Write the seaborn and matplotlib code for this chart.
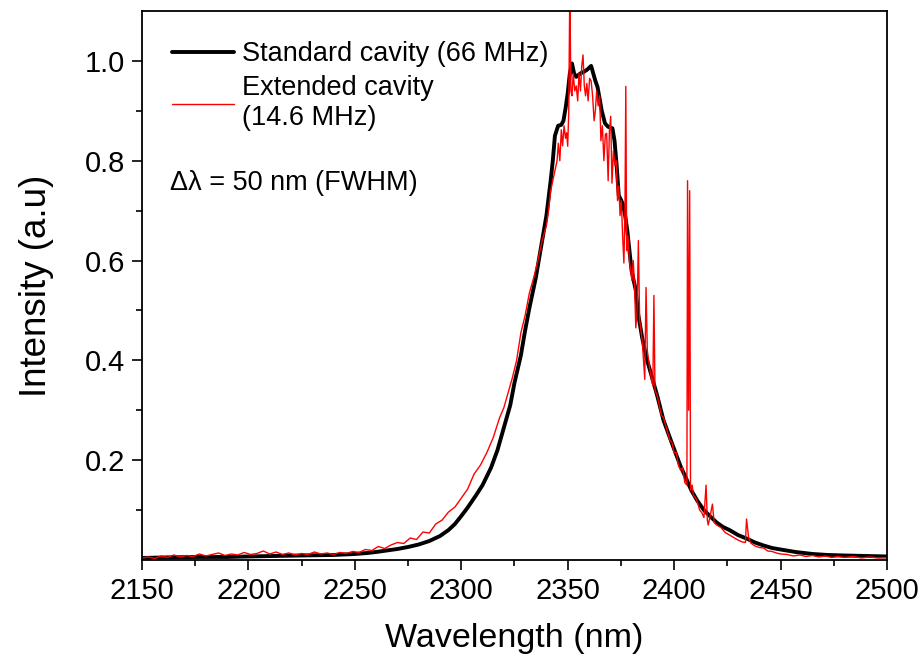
import numpy as np
import pandas as pd
import matplotlib
matplotlib.use("Agg")
import matplotlib.pyplot as plt
import seaborn as sns
from matplotlib.ticker import MultipleLocator, FixedLocator

# ---------------- data ----------------
black_wl = [2150, 2160, 2175, 2190, 2200, 2212, 2225, 2240, 2250, 2256, 2260, 2265,
            2270, 2275, 2280, 2285, 2290, 2294, 2297, 2300, 2303, 2307, 2310, 2314,
            2317, 2320, 2323, 2325, 2328, 2330, 2332, 2335, 2337, 2340, 2342, 2343,
            2344, 2345.5, 2347, 2348, 2349, 2350, 2351, 2352, 2353, 2354, 2356, 2357.5,
            2359, 2361, 2362, 2363, 2364, 2366, 2367.5, 2369, 2371, 2372, 2373, 2374,
            2375, 2376, 2377, 2378, 2380, 2382, 2383, 2385, 2387, 2389, 2392, 2395,
            2398, 2400, 2403, 2406, 2408, 2411, 2414, 2417, 2420, 2423, 2426, 2430,
            2434, 2438, 2442, 2446, 2450, 2457, 2465, 2472, 2480, 2490, 2500]
black_int = [0.004, 0.005, 0.006, 0.006, 0.007, 0.008, 0.009, 0.010, 0.012, 0.014, 0.016, 0.019,
             0.022, 0.026, 0.031, 0.038, 0.048, 0.060, 0.072, 0.088, 0.105, 0.130, 0.150, 0.185,
             0.220, 0.265, 0.310, 0.355, 0.410, 0.460, 0.505, 0.565, 0.615, 0.690, 0.760, 0.800,
             0.850, 0.870, 0.872, 0.880, 0.905, 0.935, 0.975, 0.995, 0.975, 0.968, 0.975, 0.978,
             0.982, 0.990, 0.975, 0.960, 0.948, 0.900, 0.875, 0.868, 0.865, 0.840, 0.790, 0.730,
             0.722, 0.712, 0.690, 0.660, 0.580, 0.540, 0.495, 0.445, 0.405, 0.375, 0.330, 0.280,
             0.245, 0.222, 0.188, 0.160, 0.140, 0.118, 0.100, 0.087, 0.075, 0.066, 0.060, 0.050,
             0.043, 0.035, 0.029, 0.024, 0.021, 0.016, 0.012, 0.010, 0.009, 0.008, 0.007]

red_wl = [2150, 2153, 2156, 2159, 2162, 2165, 2168, 2171, 2174, 2177, 2180, 2183, 2186,
          2189, 2192, 2195, 2198, 2201, 2204, 2207, 2210, 2213, 2216, 2219, 2222, 2225,
          2228, 2231, 2234, 2237, 2240, 2243, 2246, 2249, 2252, 2255, 2258, 2261, 2264,
          2267, 2270, 2273, 2276, 2279, 2282, 2285, 2288, 2291, 2294, 2297, 2300, 2303,
          2306, 2309, 2312, 2315, 2318, 2320, 2322, 2324, 2326, 2328, 2330, 2332, 2334,
          2336, 2338, 2340, 2341, 2342, 2343, 2344, 2345, 2345.6, 2346.3, 2347, 2347.6,
          2348.3, 2349, 2349.5, 2350, 2350.5, 2351, 2351.5, 2352, 2352.6, 2353.3, 2354,
          2354.7, 2355.3, 2356, 2356.6, 2357.2, 2357.8, 2358.4, 2359, 2359.6, 2360.3, 2361,
          2361.7, 2362.4, 2363, 2363.6, 2364.3, 2365, 2365.6, 2366.3, 2367, 2367.7, 2368.3,
          2369, 2369.6, 2370.2, 2370.8, 2371.5, 2372.2, 2372.8, 2373.4, 2374, 2374.6,
          2375.2, 2375.8, 2376.4, 2376.9, 2377.3, 2377.7, 2378.3, 2379, 2379.6, 2380.2,
          2380.8, 2381.4, 2382, 2382.6, 2383.2, 2383.8, 2384.4, 2385, 2385.6, 2386.2,
          2386.8, 2387.4, 2388, 2388.7, 2389.4, 2390, 2390.5, 2391, 2392, 2393, 2394, 2395,
          2396, 2397, 2398, 2399, 2400, 2401, 2402, 2403, 2404, 2405, 2406, 2406.3, 2406.8,
          2407.3, 2407.7, 2408.5, 2409, 2410, 2411, 2412, 2413, 2414, 2415, 2415.6, 2416, 2417, 2418,
          2418.8, 2420, 2422, 2424, 2426, 2428, 2430, 2432, 2433.5, 2434, 2435, 2436, 2438,
          2440, 2442, 2444, 2446, 2448, 2450, 2453, 2456, 2459, 2462, 2465, 2468, 2471,
          2474, 2477, 2480, 2484, 2488, 2492, 2496, 2500]
red_int = [0.004, 0.006, 0.003, 0.008, 0.005, 0.010, 0.006, 0.009, 0.007, 0.012, 0.008, 0.011, 0.014,
           0.009, 0.012, 0.010, 0.015, 0.011, 0.013, 0.018, 0.012, 0.016, 0.011, 0.014, 0.010, 0.013,
           0.011, 0.016, 0.012, 0.014, 0.011, 0.015, 0.013, 0.017, 0.015, 0.021, 0.019, 0.027, 0.023,
           0.030, 0.035, 0.033, 0.044, 0.041, 0.056, 0.054, 0.072, 0.080, 0.096, 0.106, 0.124, 0.142,
           0.172, 0.190, 0.215, 0.245, 0.285, 0.305, 0.335, 0.365, 0.400, 0.455, 0.490, 0.535, 0.565,
           0.600, 0.640, 0.670, 0.700, 0.740, 0.760, 0.780, 0.800, 0.835, 0.800, 0.862, 0.830,
           0.870, 0.845, 0.856, 0.829, 0.900, 1.150, 0.940, 0.930, 0.975, 0.940, 0.950,
           0.920, 0.975, 0.940, 0.990, 1.012, 0.950, 0.930, 0.955, 0.920, 0.965, 0.960,
           0.930, 0.880, 0.900, 0.940, 0.910, 0.930, 0.840, 0.870, 0.800, 0.853, 0.855,
           0.760, 0.860, 0.889, 0.755, 0.820, 0.790, 0.800, 0.720, 0.750, 0.690,
           0.720, 0.650, 0.595, 0.700, 0.949, 0.620, 0.650, 0.600, 0.580, 0.560,
           0.600, 0.550, 0.465, 0.500, 0.640, 0.480, 0.460, 0.440, 0.400, 0.362,
           0.546, 0.420, 0.400, 0.380, 0.360, 0.350, 0.530, 0.340, 0.330, 0.310, 0.290, 0.285,
           0.270, 0.255, 0.240, 0.235, 0.215, 0.215, 0.190, 0.180, 0.185, 0.155, 0.150, 0.760, 0.300,
           0.740, 0.140, 0.150, 0.130, 0.125, 0.115, 0.100, 0.095, 0.085, 0.150, 0.080, 0.070, 0.090, 0.112,
           0.075, 0.070, 0.065, 0.055, 0.050, 0.045, 0.040, 0.036, 0.035, 0.082, 0.045, 0.034, 0.028,
           0.025, 0.024, 0.018, 0.017, 0.014, 0.012, 0.011, 0.008, 0.010, 0.007, 0.009, 0.006, 0.008,
           0.005, 0.007, 0.005, 0.007, 0.004, 0.006, 0.004, 0.005]

x_ticks = [2150, 2200, 2250, 2300, 2350, 2400, 2450, 2500]
y_ticks = [0.2, 0.4, 0.6, 0.8, 1.0]

label_std = "Standard cavity (66 MHz)"
label_ext = "Extended cavity\n(14.6 MHz)"
note = "\u0394\u03bb = 50 nm (FWHM)"

# ---------------- plotting ----------------
sns.set_style("ticks")
plt.rcParams["font.family"] = ["Liberation Sans", "DejaVu Sans"]
plt.rcParams["text.color"] = "black"
plt.rcParams["axes.labelcolor"] = "black"

df_b = pd.DataFrame({"wl": black_wl, "I": black_int})
df_r = pd.DataFrame({"wl": red_wl, "I": red_int})

fig = plt.figure(figsize=(9.23, 6.63), dpi=100)
ax = fig.add_axes([0.1538, 0.1554, 0.8072, 0.828])

sns.lineplot(data=df_b, x="wl", y="I", ax=ax, color="black", lw=2.8,
             label=label_std, sort=False)
sns.lineplot(data=df_r, x="wl", y="I", ax=ax, color="#ff0000", lw=1.0,
             label=label_ext, sort=False)

ax.set_xlim(2150, 2500)
ax.set_ylim(0, 1.1)
ax.xaxis.set_major_locator(FixedLocator(x_ticks))
ax.xaxis.set_minor_locator(MultipleLocator(25))
ax.yaxis.set_major_locator(FixedLocator(y_ticks))
ax.yaxis.set_minor_locator(FixedLocator([0.1, 0.3, 0.5, 0.7, 0.9]))
ax.set_xticklabels([str(t) for t in x_ticks])
ax.set_yticklabels([f"{t:.1f}" for t in y_ticks])

ax.tick_params(axis="both", which="major", direction="out", length=7, width=1.2,
               labelsize=21, pad=5, colors="black")
ax.tick_params(axis="both", which="minor", direction="out", length=4.5, width=1.2,
               colors="black")

for s in ax.spines.values():
    s.set_visible(True)
    s.set_linewidth(1.3)
    s.set_color("black")

ax.set_xlabel("Wavelength (nm)", fontsize=24.5, labelpad=13, color="black")
ax.set_ylabel("Intensity (a.u)", fontsize=26.5, labelpad=22, color="black")

leg = ax.legend(loc="upper left", bbox_to_anchor=(0.018, 0.975), frameon=False,
                fontsize=19.5, handlelength=2.3, handletextpad=0.3,
                labelspacing=0.3, borderaxespad=0.2, labelcolor="black")

ax.text(2163, 0.756, note, fontsize=19.5, ha="left", va="center", color="black")

fig.savefig("out.png", dpi=100)
